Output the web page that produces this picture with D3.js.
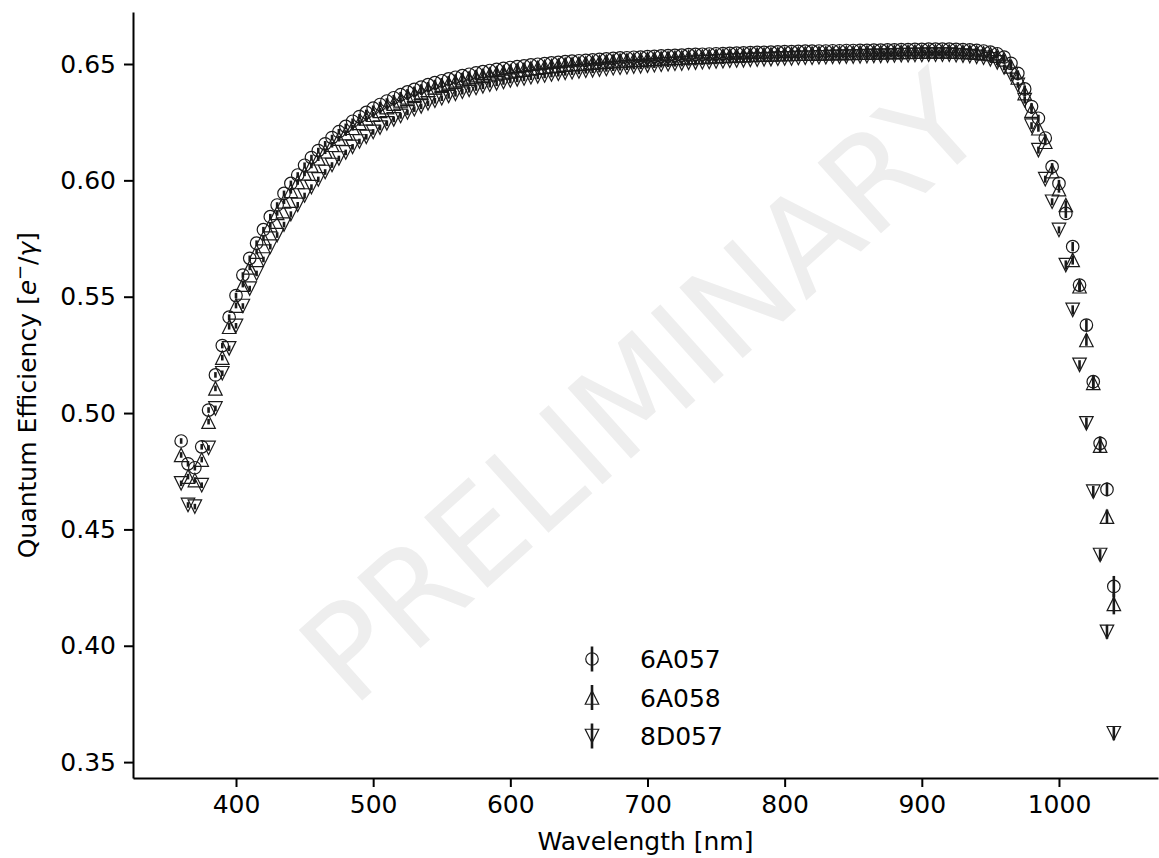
<!DOCTYPE html>
<html>
<head>
<meta charset="utf-8">
<script src="https://cdn.jsdelivr.net/npm/d3@7"></script>
<style>
  html, body { margin: 0; padding: 0; background: #fff; }
  svg { display: block; font-family: "DejaVu Sans", sans-serif; }
</style>
</head>
<body>
<div id="chart"></div>
<script>
// wavelengths [nm], 5 nm grid
var wavelength = [
  360, 365, 370, 375, 380, 385, 390, 395,
  400, 405, 410, 415, 420, 425, 430, 435, 440, 445,
  450, 455, 460, 465, 470, 475, 480, 485, 490, 495,
  500, 505, 510, 515, 520, 525, 530, 535, 540, 545,
  550, 555, 560, 565, 570, 575, 580, 585, 590, 595,
  600, 605, 610, 615, 620, 625, 630, 635, 640, 645,
  650, 655, 660, 665, 670, 675, 680, 685, 690, 695,
  700, 705, 710, 715, 720, 725, 730, 735, 740, 745,
  750, 755, 760, 765, 770, 775, 780, 785, 790, 795,
  800, 805, 810, 815, 820, 825, 830, 835, 840, 845,
  850, 855, 860, 865, 870, 875, 880, 885, 890, 895,
  900, 905, 910, 915, 920, 925, 930, 935, 940, 945,
  950, 955, 960, 965, 970, 975, 980, 985, 990, 995,
  1000, 1005, 1010, 1015, 1020, 1025, 1030, 1035, 1040
];

var qe6A057 = [
  .4880, .4782, .4765, .4855, .5013, .5164, .5290, .5412,
  .5505, .5593, .5665, .5730, .5788, .5844, .5894, .5944, .5987, .6023,
  .6065, .6098, .6128, .6157, .6184, .6209, .6232, .6254, .6274, .6292,
  .6310, .6326, .6341, .6355, .6368, .6380, .6391, .6401, .6411, .6420,
  .6428, .6436, .6443, .6450, .6456, .6462, .6467, .6472, .6477, .6481,
  .6485, .6489, .6492, .6496, .6499, .6502, .6505, .6507, .6510, .6512,
  .6514, .6516, .6518, .6520, .6522, .6524, .6526, .6527, .6529, .6530,
  .6532, .6533, .6535, .6536, .6537, .6538, .6540, .6541, .6542, .6543,
  .6544, .6545, .6546, .6547, .6548, .6549, .6550, .6550, .6551, .6552,
  .6553, .6553, .6554, .6555, .6555, .6556, .6556, .6557, .6557, .6558,
  .6558, .6559, .6559, .6560, .6560, .6561, .6561, .6562, .6562, .6563,
  .6563, .6564, .6564, .6564, .6564, .6563, .6562, .6561, .6559, .6556,
  .6551, .6544, .6530, .6503, .6460, .6393, .6317, .6267, .6182, .6059,
  .5987, .5858, .5715, .5550, .5378, .5135, .4870, .4672, .4255
];

var qe6A058 = [
  .4820, .4727, .4712, .4800, .4963, .5106, .5238, .5371,
  .5462, .5552, .5626, .5694, .5752, .5808, .5860, .5910, .5955, .5993,
  .6030, .6064, .6095, .6125, .6153, .6179, .6203, .6226, .6247, .6266,
  .6282, .6299, .6315, .6330, .6344, .6357, .6368, .6379, .6389, .6399,
  .6407, .6416, .6423, .6431, .6437, .6444, .6449, .6455, .6460, .6464,
  .6468, .6473, .6476, .6481, .6484, .6488, .6491, .6493, .6497, .6499,
  .6501, .6503, .6506, .6508, .6510, .6512, .6515, .6516, .6518, .6519,
  .6521, .6522, .6524, .6525, .6527, .6528, .6530, .6531, .6532, .6533,
  .6534, .6535, .6536, .6537, .6538, .6539, .6540, .6540, .6541, .6542,
  .6543, .6543, .6544, .6545, .6545, .6546, .6546, .6547, .6547, .6548,
  .6548, .6549, .6549, .6550, .6550, .6551, .6551, .6552, .6552, .6553,
  .6553, .6554, .6554, .6554, .6554, .6553, .6552, .6551, .6549, .6546,
  .6543, .6536, .6520, .6490, .6442, .6375, .6300, .6224, .6166, .6040,
  .5962, .5894, .5658, .5545, .5314, .5130, .4860, .4555, .4180
];

var qe8D057 = [
  .4698, .4605, .4598, .4690, .4850, .5020, .5171, .5278,
  .5375, .5460, .5535, .5600, .5660, .5715, .5765, .5810, .5855, .5895,
  .5935, .5971, .6004, .6036, .6066, .6094, .6120, .6144, .6167, .6187,
  .6208, .6227, .6245, .6262, .6277, .6292, .6306, .6318, .6331, .6342,
  .6353, .6363, .6372, .6381, .6389, .6397, .6404, .6411, .6417, .6423,
  .6429, .6434, .6438, .6443, .6447, .6451, .6455, .6458, .6462, .6465,
  .6468, .6471, .6473, .6476, .6479, .6482, .6484, .6486, .6489, .6490,
  .6493, .6495, .6497, .6499, .6501, .6502, .6505, .6506, .6508, .6509,
  .6511, .6512, .6514, .6515, .6516, .6518, .6519, .6520, .6521, .6523,
  .6524, .6524, .6526, .6527, .6527, .6529, .6529, .6531, .6531, .6532,
  .6532, .6533, .6534, .6535, .6535, .6536, .6537, .6538, .6538, .6539,
  .6539, .6540, .6540, .6540, .6540, .6538, .6536, .6534, .6531, .6527,
  .6520, .6507, .6485, .6455, .6410, .6345, .6235, .6130, .6005, .5908,
  .5787, .5636, .5443, .5207, .4956, .4662, .4390, .4060, .3624
];

// error bars: small everywhere, larger in the red tail (975..1040 nm)
var errBase = 0.0012;
var errTail6A057 = [.0015, .0015, .0015, .0015, .0015, .0015, .002, .002, .002, .0025, .0025, .003, .003, .0045];
var errTail6A058 = [.0015, .0015, .0015, .0015, .0015, .0015, .002, .002, .0025, .0025, .003, .003, .003, .0045];
var errTail8D057 = [.0015, .0015, .0015, .0015, .0015, .0015, .002, .002, .002, .0025, .0025, .0025, .003, .003];

var seriesNames = ["6A057", "6A058", "8D057"];
var xTicks = [400, 500, 600, 700, 800, 900, 1000];
var yTicks = [0.35, 0.40, 0.45, 0.50, 0.55, 0.60, 0.65];

var W = 1159, H = 858;
var mLeft = 133, mRight = 1158, mTop = 12, mBottom = 778;
var fontSize = 25;

var svg = d3.select("#chart").append("svg")
    .attr("width", W)
    .attr("height", H);

var x = d3.scaleLinear().domain([324.9, 1072.2]).range([mLeft, mRight]);
var y = d3.scaleLinear().domain([0.34317, 0.67235]).range([mBottom, mTop]);

// watermark
svg.append("text")
    .attr("transform", "translate(642,388) rotate(-42)")
    .attr("text-anchor", "middle")
    .attr("dominant-baseline", "central")
    .style("font-size", "130px")
    .style("fill", "#eeeeee")
    .text("PRELIMINARY");

function buildSeries(qe, tail) {
    var tailStart = wavelength.length - tail.length;
    return wavelength.map(function(w, i) {
        return { w: w, v: qe[i], e: i >= tailStart ? tail[i - tailStart] : errBase };
    });
}

var series = [
    { name: seriesNames[0], marker: "circle", data: buildSeries(qe6A057, errTail6A057) },
    { name: seriesNames[1], marker: "up", data: buildSeries(qe6A058, errTail6A058) },
    { name: seriesNames[2], marker: "down", data: buildSeries(qe8D057, errTail8D057) }
];

var ms = 13.5; // marker size in px
var ink = "#1a1a1a";

function markerPath(type) {
    var h = ms / 2;
    if (type === "up") return "M0," + (-h) + "L" + h + "," + h + "L" + (-h) + "," + h + "Z";
    if (type === "down") return "M0," + h + "L" + h + "," + (-h) + "L" + (-h) + "," + (-h) + "Z";
    return null;
}

function drawMarker(g, type) {
    if (type === "circle") {
        g.append("circle").attr("r", ms / 2 - 0.5);
    } else {
        g.append("path").attr("d", markerPath(type));
    }
}

var plot = svg.append("g").attr("class", "points");

series.forEach(function(s) {
    var g = plot.append("g");
    g.selectAll("line.err")
        .data(s.data)
        .enter().append("line")
        .attr("class", "err")
        .attr("x1", function(d) { return x(d.w); })
        .attr("x2", function(d) { return x(d.w); })
        .attr("y1", function(d) { return y(d.v - d.e); })
        .attr("y2", function(d) { return y(d.v + d.e); })
        .style("stroke", ink)
        .style("stroke-width", 2.6);

    var m = g.selectAll("g.mk")
        .data(s.data)
        .enter().append("g")
        .attr("class", "mk")
        .attr("transform", function(d) { return "translate(" + x(d.w) + "," + y(d.v) + ")"; });
    m.each(function() { drawMarker(d3.select(this), s.marker); });
    m.selectAll("circle, path")
        .style("fill", "none")
        .style("stroke", ink)
        .style("stroke-width", 1.2);
});

// axes
var xAxis = svg.append("g")
    .attr("transform", "translate(0," + mBottom + ")")
    .call(d3.axisBottom(x).tickValues(xTicks).tickFormat(d3.format("d")).tickSize(9).tickPadding(8).tickSizeOuter(0));
var yAxis = svg.append("g")
    .attr("transform", "translate(" + mLeft + ",0)")
    .call(d3.axisLeft(y).tickValues(yTicks).tickFormat(d3.format(".2f")).tickSize(9).tickPadding(8).tickSizeOuter(0));

[xAxis, yAxis].forEach(function(a) {
    a.select(".domain").style("stroke", "#000").style("stroke-width", 2);
    a.selectAll(".tick line").style("stroke", "#000").style("stroke-width", 2);
    a.selectAll(".tick text")
        .style("font-size", fontSize + "px")
        .style("font-family", "DejaVu Sans")
        .style("fill", "#000");
});

svg.append("text")
    .attr("x", (mLeft + mRight) / 2)
    .attr("y", 850)
    .attr("text-anchor", "middle")
    .style("font-size", fontSize + "px")
    .text("Wavelength [nm]");

var yl = svg.append("text")
    .attr("transform", "translate(36," + ((mTop + mBottom) / 2) + ") rotate(-90)")
    .attr("text-anchor", "middle")
    .style("font-size", fontSize + "px");
yl.append("tspan").text("Quantum Efficiency [");
yl.append("tspan").style("font-style", "italic").text("e");
yl.append("tspan").attr("dy", -10).style("font-size", "18px").text("\u2212");
yl.append("tspan").attr("dy", 10).text("/");
yl.append("tspan").style("font-style", "italic").text("\u03b3");
yl.append("tspan").text("]");

// legend (no frame)
var legend = svg.append("g").attr("class", "legend");
series.forEach(function(s, i) {
    var cy = 659 + i * 38.5;
    var lg = legend.append("g").attr("transform", "translate(592," + cy + ")");
    lg.append("line")
        .attr("y1", -12.5).attr("y2", 12.5)
        .style("stroke", ink).style("stroke-width", 2.6);
    drawMarker(lg, s.marker);
    lg.selectAll("circle, path")
        .style("fill", "none").style("stroke", ink).style("stroke-width", 1.2);
    legend.append("text")
        .attr("x", 640)
        .attr("y", cy)
        .attr("dy", "0.36em")
        .style("font-size", fontSize + "px")
        .text(s.name);
});
</script>
</body>
</html>
